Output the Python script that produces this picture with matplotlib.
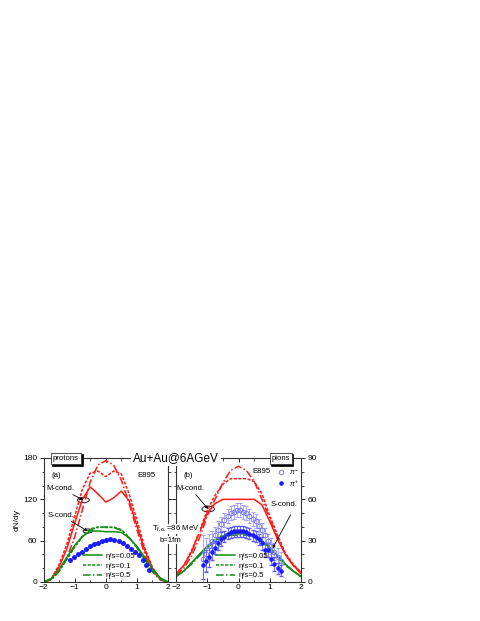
import matplotlib
matplotlib.use('Agg')
import matplotlib.pyplot as plt
from matplotlib.patches import Ellipse, Rectangle
from matplotlib.lines import Line2D
from matplotlib.ticker import MultipleLocator

plt.rcParams['font.family'] = ['Liberation Sans', 'DejaVu Sans']
plt.rcParams['mathtext.fontset'] = 'custom'
plt.rcParams['mathtext.rm'] = 'Liberation Sans'
plt.rcParams['mathtext.it'] = 'Liberation Sans:italic'

# rapidity grid of the hydro curves
y_grid = [-2, -1.75, -1.5, -1.25, -1, -0.75, -0.5, -0.25, 0, 0.25, 0.5, 0.75, 1, 1.25, 1.5, 1.75, 2]

# (a) protons
p_m_005 = [0, 4, 22, 48, 85, 120, 138, 128, 116, 122, 132, 118, 82, 46, 20, 5, 0]
p_m_01 = [0, 5, 25, 55, 95, 135, 158, 161, 153, 161, 157, 128, 90, 50, 21, 5, 0]
p_m_05 = [0, 3, 15, 35, 65, 105, 145, 170, 176, 170, 148, 114, 76, 41, 15, 3, 0]
p_s_005 = [0, 5, 18, 36, 53, 66, 74, 74, 73, 73, 72, 64, 52, 36, 19, 6, 0]
p_s_01 = [0, 4, 16, 33, 51, 66, 77, 80, 79, 80, 76, 65, 50, 33, 16, 4, 0]
p_s_05 = [0, 4, 16, 33, 51, 66, 76, 79, 80, 79, 75, 64, 50, 33, 16, 4, 0]

e895_p_y = [-1.15, -1.02, -0.89, -0.76, -0.63, -0.5, -0.37, -0.24, -0.11, 0.02, 0.15, 0.28,
            0.41, 0.54, 0.67, 0.8, 0.93, 1.06, 1.19, 1.3, 1.4]
e895_p = [32, 36, 40, 44, 48, 52, 55, 57, 59, 61, 62, 61, 60, 57, 52, 48, 44, 39, 32, 24, 17]

# (b) pions
pi_m_005 = [6, 12, 22, 36, 50, 57, 60, 60, 60, 60, 60, 56, 44, 31, 20, 12, 7]
pi_m_01 = [6, 12, 23, 37, 52, 63, 71, 75, 75, 75, 73, 64, 48, 34, 21, 13, 7]
pi_m_05 = [5, 10, 19, 32, 48, 60, 72, 81, 84, 81, 73, 60, 46, 32, 20, 12, 6]
pi_s_005 = [4, 8, 14, 20, 26, 30, 33, 35, 35, 35, 33, 30, 25, 19, 13, 8, 4]
pi_s_01 = [4, 8, 14, 20, 26, 31, 34, 36, 36, 36, 34, 30, 25, 19, 13, 8, 4]
pi_s_05 = [4, 8, 13, 19, 25, 30, 33, 34, 34, 34, 33, 29, 24, 18, 12, 8, 4]

e895_pi_y = [-1.15, -1.05, -0.95, -0.85, -0.75, -0.65, -0.55, -0.45, -0.35, -0.25, -0.15, -0.05, 0.05,
             0.15, 0.25, 0.35, 0.45, 0.55, 0.65, 0.75, 0.85, 0.95, 1.05, 1.15, 1.25, 1.35]
pim = [17, 20, 26, 30, 34, 38, 42, 45, 48, 50, 51, 52, 52, 51, 50, 48, 46, 44, 41, 38, 34, 30, 26, 22, 18, 15]
pim_err = [17, 12, 9, 7, 6, 6, 5, 5, 5, 5, 5, 5, 5, 5, 5, 5, 5, 5, 5, 5, 5, 5, 6, 6, 7, 7]
pip = [12, 15, 18, 22, 25, 28, 31, 33, 35, 36, 37, 37, 37, 37, 36, 35, 34, 33, 31, 28, 23, 23, 17, 13, 10, 8]
pip_err = [10, 8, 7, 6, 5, 5, 5, 4, 4, 4, 4, 4, 4, 4, 4, 4, 4, 4, 4, 5, 5, 5, 5, 5, 4, 4]

labels = ['η/s=0.05', 'η/s=0.1', 'η/s=0.5']
styles = ['-', (0, (2, 1)), (0, (5, 1.5, 1, 1.5))]
red = '#ff1a1a'
green = '#138a13'
fs = 5.6

fig = plt.figure(figsize=(4.8, 6.21), dpi=100)
W, H = 480.0, 621.0
ax1 = fig.add_axes([43.5 / W, 1 - 582 / H, 124.5 / W, 124 / H])
ax2 = fig.add_axes([176 / W, 1 - 582 / H, 125 / W, 124 / H])

for ax, mcurves, scurves in [(ax1, [p_m_005, p_m_01, p_m_05], [p_s_005, p_s_01, p_s_05]),
                             (ax2, [pi_m_005, pi_m_01, pi_m_05], [pi_s_005, pi_s_01, pi_s_05])]:
    for c, ls in zip(mcurves, styles):
        ax.plot(y_grid, c, color=red, ls=ls, lw=1.1)
    for c, ls in zip(scurves, styles):
        ax.plot(y_grid, c, color=green, ls=ls, lw=1.1)

ax1.plot(e895_p_y, e895_p, 'o', color='#1a1aff', ms=3.6, mec='none')

ax2.errorbar(e895_pi_y, pim, yerr=pim_err, fmt='o', mfc='none', mec='#7878ff', ecolor='#a0a0ff',
             ms=3.3, mew=0.7, elinewidth=0.6, capsize=1.3)
ax2.errorbar(e895_pi_y, pip, yerr=pip_err, fmt='o', color='#1a1aff', ecolor='#5a5aff',
             ms=3.3, mec='none', elinewidth=0.6, capsize=1.3)

ax1.set_xlim(-2, 2)
ax1.set_ylim(0, 180)
ax2.set_xlim(-2, 2)
ax2.set_ylim(0, 90)
for ax in (ax1, ax2):
    ax.xaxis.set_major_locator(MultipleLocator(1))
    ax.xaxis.set_minor_locator(MultipleLocator(0.5))
    ax.tick_params(axis='x', which='both', direction='in', top=True, labelsize=fs + 0.4, pad=1.5)
    ax.tick_params(axis='x', which='major', length=3, width=0.6)
    ax.tick_params(axis='x', which='minor', length=1.8, width=0.5)
    ax.tick_params(axis='y', which='both', direction='out', left=True, right=True, labelsize=fs + 0.4, pad=1.5)
    ax.tick_params(axis='y', which='major', length=3, width=0.6)
    ax.tick_params(axis='y', which='minor', length=1.8, width=0.5)
    for s in ax.spines.values():
        s.set_linewidth(0.8)
        s.set_color('#333333')
ax1.yaxis.set_major_locator(MultipleLocator(60))
ax1.yaxis.set_minor_locator(MultipleLocator(20))
ax2.yaxis.set_major_locator(MultipleLocator(30))
ax2.yaxis.set_minor_locator(MultipleLocator(10))
ax2.tick_params(axis='y', labelleft=False, labelright=True)
ax1.set_ylabel('dN/dy', fontsize=fs + 0.4, labelpad=2)

# legends
handles = [Line2D([], [], color=green, ls=ls, lw=1.1) for ls in styles]
for ax in (ax1, ax2):
    ax.legend(handles, labels, loc='lower left', bbox_to_anchor=(0.27, -0.03), frameon=False,
              fontsize=fs, handlelength=2.4, handletextpad=0.5, labelspacing=0.3, borderpad=0.3)

# panel text
ax1.text(-1.58, 154, '(a)', fontsize=fs, ha='center', va='center')
ax2.text(-1.62, 77, '(b)', fontsize=fs, ha='center', va='center')
ax1.text(1.32, 155, 'E895', fontsize=fs, ha='center', va='center')
ax2.text(0.74, 80, 'E895', fontsize=fs, ha='center', va='center')
ax2.plot([1.35], [79.6], 'o', mfc='none', mec='#7878ff', ms=3.3, mew=0.7)
ax2.plot([1.35], [71.6], 'o', color='#1a1aff', mec='none', ms=3.3)
ax2.text(1.62, 79.6, r'$\pi^-$', fontsize=fs - 0.6, ha='left', va='center')
ax2.text(1.62, 71.6, r'$\pi^+$', fontsize=fs - 0.6, ha='left', va='center')

arrow = dict(arrowstyle='-|>', color='black', lw=0.6, mutation_scale=4, shrinkA=0, shrinkB=0)
ax1.annotate('M-cond.', xy=(-0.72, 119), xytext=(-1.45, 136), fontsize=fs, ha='center', va='center',
             arrowprops=arrow)
ax1.add_patch(Ellipse((-0.72, 119), 0.38, 7.5, fill=False, lw=0.6, ec='black'))
ax1.annotate('S-cond.', xy=(-0.58, 74), xytext=(-1.45, 97), fontsize=fs, ha='center', va='center',
             arrowprops=arrow)
ax1.add_patch(Ellipse((-0.58, 74), 0.3, 6, fill=False, lw=0.6, ec='black'))
ax2.annotate('M-cond.', xy=(-0.97, 53), xytext=(-1.54, 68), fontsize=fs, ha='center', va='center',
             arrowprops=arrow)
ax2.add_patch(Ellipse((-0.97, 53), 0.4, 4.2, fill=False, lw=0.6, ec='black'))
ax2.annotate('S-cond.', xy=(1.09, 24.5), xytext=(1.46, 56), fontsize=fs, ha='center', va='center',
             arrowprops=dict(arrowstyle='-|>', color='black', lw=0.6, mutation_scale=4,
                             shrinkA=3, shrinkB=0, relpos=(0.9, 0.2)))

# freeze-out text across the gap
fig.text(152 / W, 1 - 529 / H, r'T$_{\rm f.o.}$=86 MeV', fontsize=fs, ha='left', va='center',
         bbox=dict(fc='white', ec='none', pad=0.3))
fig.text(160 / W, 1 - 540 / H, 'b=1fm', fontsize=fs, ha='left', va='center',
         bbox=dict(fc='white', ec='none', pad=0.3))

# title on the top frame
fig.text(176 / W, 1 - 458 / H, 'Au+Au@6AGeV', fontsize=8.5, ha='center', va='center',
         bbox=dict(fc='white', ec='none', pad=1.5))

# boxed particle labels with shadow
for x0, x1, txt in [(50.5, 81, 'protons'), (269.5, 291.5, 'pions')]:
    y0, y1 = 452.5, 464
    fig.add_artist(Rectangle((x0 / W + 1.8 / W, 1 - (y1 + 1.8) / H), (x1 - x0) / W, (y1 - y0) / H,
                             transform=fig.transFigure, fc='black', ec='black', lw=0.5, zorder=5))
    fig.add_artist(Rectangle((x0 / W, 1 - y1 / H), (x1 - x0) / W, (y1 - y0) / H,
                             transform=fig.transFigure, fc='white', ec='#333333', lw=0.6, zorder=6))
    fig.text((x0 + x1) / 2 / W, 1 - (y0 + y1) / 2 / H, txt, fontsize=fs, ha='center', va='center',
             zorder=7)

fig.savefig('out.png', dpi=100)
